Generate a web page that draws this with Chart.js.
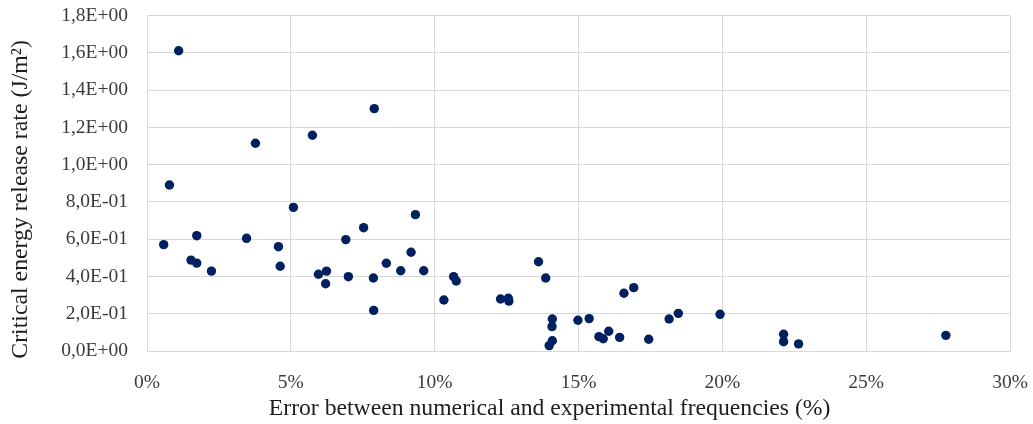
<!DOCTYPE html>
<html>
<head>
<meta charset="utf-8">
<script src="https://cdn.jsdelivr.net/npm/chart.js@4/dist/chart.umd.min.js"></script>
<style>
html,body{margin:0;padding:0;background:#fff;}
#wrap{width:1033px;height:424px;position:relative;}
</style>
</head>
<body>
<div id="wrap"><canvas id="c" width="1033" height="424"></canvas></div>
<script>
// Error between numerical and experimental frequencies (%)
const errorPct = [
  1.10, 3.77, 5.75, 7.90, 0.78, 5.09, 0.58, 1.73, 1.53, 1.73,
  2.24, 3.46, 4.57, 4.63, 5.96, 6.24, 6.21, 6.91, 7.00, 7.53,
  7.87, 7.88, 8.32, 8.82, 9.18, 9.33, 9.62, 10.32, 10.66, 10.75,
  12.29, 12.56, 12.58, 13.61, 13.86, 14.09, 14.08, 14.09, 13.98, 14.98,
  15.37, 15.71, 15.86, 16.05, 16.43, 16.58, 16.92, 17.44, 18.15, 18.47,
  19.92, 22.13, 22.13, 22.65, 27.77
];
// Critical energy release rate (J/m²)
const energyRate = [
  1.612, 1.115, 1.158, 1.301, 0.891, 0.771, 0.571, 0.619, 0.488, 0.472,
  0.429, 0.605, 0.560, 0.455, 0.412, 0.429, 0.361, 0.598, 0.399, 0.662,
  0.392, 0.218, 0.471, 0.431, 0.530, 0.732, 0.431, 0.274, 0.399, 0.376,
  0.279, 0.283, 0.268, 0.479, 0.392, 0.172, 0.131, 0.055, 0.029, 0.165,
  0.174, 0.077, 0.066, 0.106, 0.073, 0.310, 0.340, 0.063, 0.172, 0.202,
  0.197, 0.090, 0.050, 0.038, 0.084
];
const xTitle = 'Error between numerical and experimental frequencies (%)';
const yTitle = 'Critical energy release rate (J/m²)';

const points = errorPct.map((x, i) => ({x: x, y: energyRate[i]}));
const serif = '"Liberation Serif", "Times New Roman", serif';

// Axis titles drawn as canvas text, placed like the reference (Excel offsets them)
const axisTitles = {
  id: 'axisTitles',
  afterDraw(chart) {
    const ctx = chart.ctx;
    const xs = chart.scales.x, ys = chart.scales.y;
    ctx.save();
    ctx.fillStyle = '#1e1e1e';
    ctx.font = '23.7px ' + serif;
    ctx.textAlign = 'center';
    ctx.textBaseline = 'alphabetic';
    // x title: slightly left of plot centre
    const xc = xs.left + (xs.right - xs.left) * 0.4665;
    ctx.fillText(xTitle, xc, xs.bottom - 9);
    // y title: rotated, slightly below plot centre
    const yc = ys.top + (ys.bottom - ys.top) * 0.548;
    ctx.translate(ys.left + 27, yc);
    ctx.rotate(-Math.PI / 2);
    ctx.font = '23.8px ' + serif;
    ctx.fillText(yTitle, 0, 0);
    ctx.restore();
  }
};

new Chart(document.getElementById('c'), {
  type: 'scatter',
  data: {
    datasets: [{
      data: points,
      backgroundColor: '#002060',
      borderColor: '#002060',
      pointRadius: 4.7,
      pointHoverRadius: 4.7,
      borderWidth: 0
    }]
  },
  options: {
    responsive: false,
    animation: false,
    layout: {padding: {top: 15.7, right: 23, left: 0, bottom: 0}},
    plugins: {legend: {display: false}, tooltip: {enabled: false}},
    scales: {
      x: {
        type: 'linear',
        min: 0, max: 30,
        ticks: {
          stepSize: 5,
          color: '#3a3a3a',
          font: {family: serif, size: 19.5},
          padding: 20,
          callback: v => v + '%'
        },
        grid: {color: '#d9d9d9', lineWidth: 1, drawTicks: false},
        border: {color: '#d9d9d9'},
        title: {display: false},
        afterFit: s => { s.height = 73; s.paddingLeft = 0; s.paddingRight = 0; }
      },
      y: {
        type: 'linear',
        min: 0, max: 1.8,
        ticks: {
          stepSize: 0.2,
          color: '#3a3a3a',
          font: {family: serif, size: 19.5},
          padding: 19,
          callback: v => {
            if (Math.abs(v) < 1e-9) return '0,0E+00';
            let e = Math.floor(Math.log10(Math.abs(v)) + 1e-9);
            let m = v / Math.pow(10, e);
            let es = (e < 0 ? '-' : '+') + String(Math.abs(e)).padStart(2, '0');
            return m.toFixed(1).replace('.', ',') + 'E' + es;
          }
        },
        grid: {color: '#d9d9d9', lineWidth: 1, drawTicks: false},
        border: {color: '#d9d9d9'},
        title: {display: false},
        afterFit: s => { s.width = 147; s.paddingTop = 0; s.paddingBottom = 0; }
      }
    }
  },
  plugins: [axisTitles]
});
</script>
</body>
</html>
